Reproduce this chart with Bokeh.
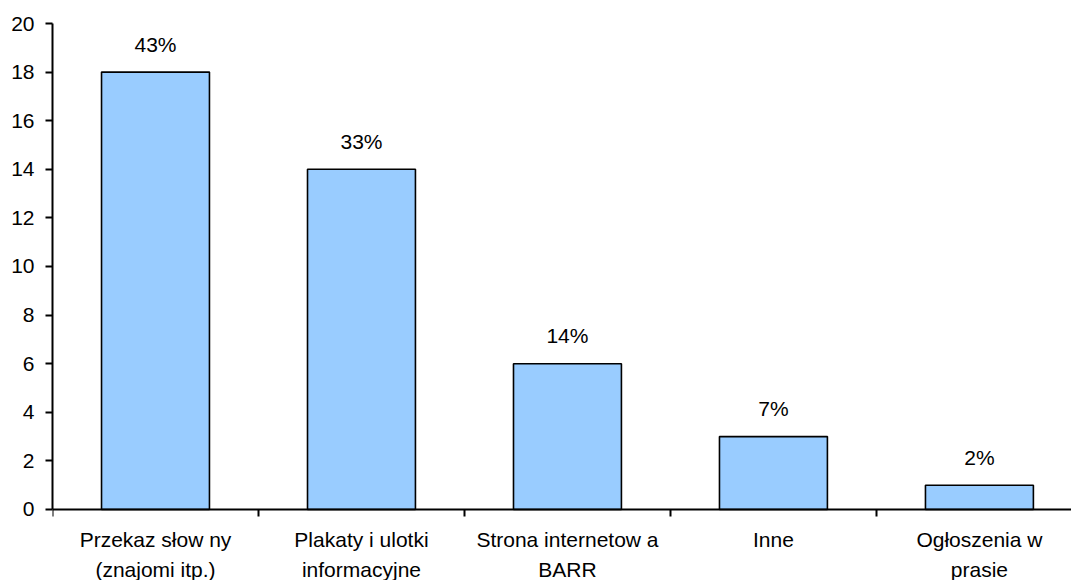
from bokeh.plotting import figure
from bokeh.models import Range1d, FixedTicker, LinearAxis
from bokeh.core.properties import value
from bokeh.embed import file_html
from bokeh.resources import INLINE

# Source of information about the programme (number of answers)
categories = [
    "Przekaz słow ny\n(znajomi itp.)",
    "Plakaty i ulotki\ninformacyjne",
    "Strona internetow a\nBARR",
    "Inne",
    "Ogłoszenia w\nprasie",
]
counts = [18, 14, 6, 3, 1]
y_ticks = [0, 2, 4, 6, 8, 10, 12, 14, 16, 18, 20]

total = sum(counts)
shares = [f"{round(c * 100 / total)}%" for c in counts]
centers = [i + 0.5 for i in range(len(categories))]
boundaries = list(range(len(categories) + 1))

FONT = "Liberation Sans"
FONT_SIZE = "21px"

# the frame reaches down to the bottom edge so the category names
# can be drawn as text under the zero line
p = figure(
    width=1071, height=580,
    output_backend="svg", toolbar_location=None,
    x_range=Range1d(0, 4.947), y_range=Range1d(-2.922, 20),
    x_axis_location=None,
    min_border_left=52, min_border_right=0,
    min_border_top=23, min_border_bottom=0,
)
p.outline_line_color = None
p.xgrid.visible = False
p.ygrid.visible = False
p.background_fill_color = "white"
p.border_fill_color = "white"

p.vbar(x=centers, top=counts, width=0.524,
       fill_color="#99CCFF", line_color="black", line_width=1.6)

p.text(x=centers, y=counts, text=shares,
       text_align="center", text_baseline="alphabetic", y_offset=-28,
       text_font=value(FONT), text_font_size=FONT_SIZE, text_color="black")

p.text(x=centers, y=[0] * len(centers), text=categories,
       text_align="center", text_baseline="top", y_offset=19,
       text_line_height=1.29,
       text_font=value(FONT), text_font_size=FONT_SIZE, text_color="black")

# value axis, line limited to 0..20
ya = p.yaxis[0]
ya.ticker = FixedTicker(ticks=y_ticks)
ya.bounds = (0, 20)
ya.axis_line_width = 2
ya.axis_line_color = "black"
ya.major_tick_line_width = 2
ya.major_tick_line_color = "black"
ya.major_tick_out = 7
ya.major_tick_in = 0
ya.minor_tick_out = 0
ya.minor_tick_in = 0
ya.major_label_standoff = 11
ya.major_label_text_font = FONT
ya.major_label_text_font_size = FONT_SIZE
ya.major_label_text_color = "black"

# category axis on the zero line, ticks between categories
xa = LinearAxis(fixed_location=0)
xa.ticker = FixedTicker(ticks=boundaries)
xa.major_label_overrides = {b: "" for b in boundaries}
xa.axis_line_width = 2
xa.axis_line_color = "black"
xa.major_tick_line_width = 2
xa.major_tick_line_color = "black"
xa.major_tick_out = 7
xa.major_tick_in = 0
xa.minor_tick_out = 0
xa.minor_tick_in = 0
p.add_layout(xa, "below")

open("out.html", "w").write(file_html(p, INLINE))
